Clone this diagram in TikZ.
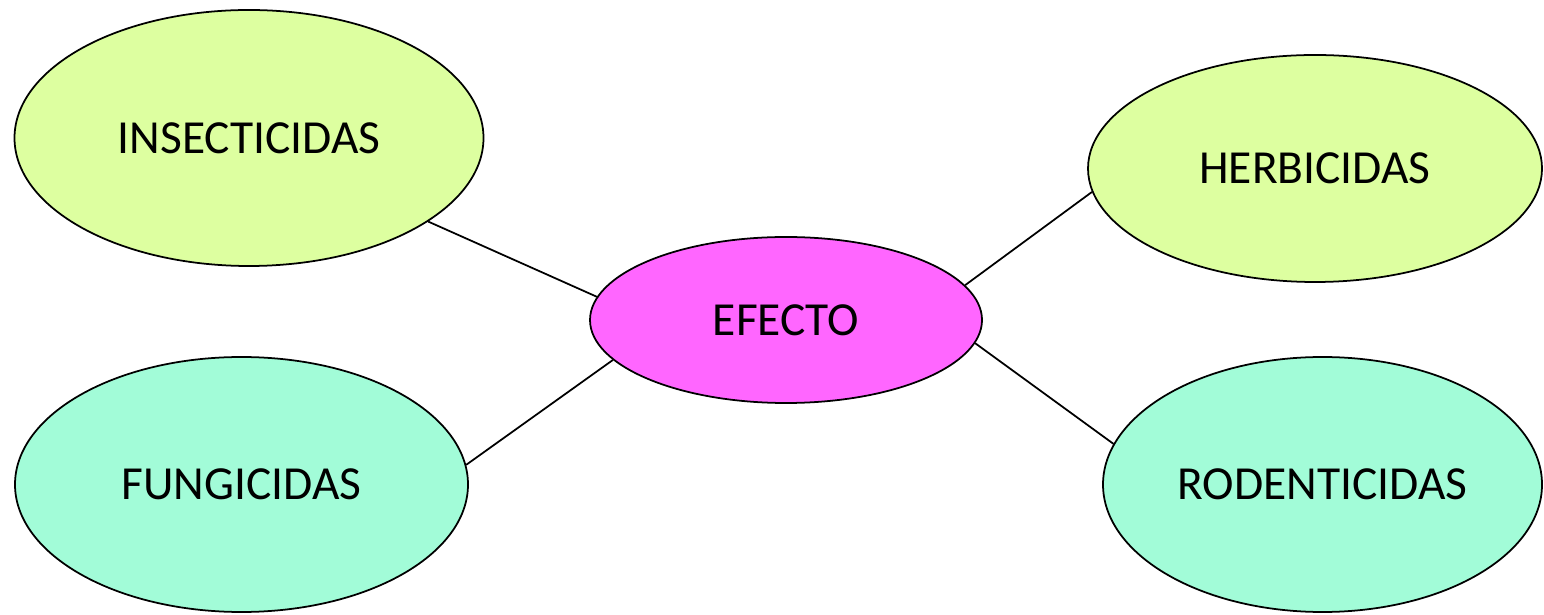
\documentclass[tikz,border=0pt]{standalone}
\usepackage{fontspec}
\setmainfont{Carlito}
\usetikzlibrary{shapes.geometric}

\definecolor{limefill}{HTML}{DDFFA0}
\definecolor{pinkfill}{HTML}{FF66FF}
\definecolor{aquafill}{HTML}{A2FCD8}

\begin{document}
\begin{tikzpicture}[%
    x=0.1mm,
    y=-0.1mm,
    line width=0.5pt,
    blob/.style={%
      ellipse,
      draw,
      inner sep=0pt,
      font=\fontsize{13.5}{16}\selectfont
    }
  ]
    \useasboundingbox (0,0) rectangle (1544,615);

    \node[blob,fill=limefill,minimum width=46.9mm,minimum height=25.6mm] (insect) at (249,138)    {INSECTICIDAS};
    \node[blob,fill=limefill,minimum width=45.4mm,minimum height=22.7mm] (herb)   at (1315,168.5) {HERBICIDAS};
    \node[blob,fill=pinkfill,minimum width=39.2mm,minimum height=16.6mm] (efecto) at (786,320)    {EFECTO};
    \node[blob,fill=aquafill,minimum width=45.3mm,minimum height=25.5mm] (fung)   at (241.5,484.5) {FUNGICIDAS};
    \node[blob,fill=aquafill,minimum width=43.9mm,minimum height=25.5mm] (roden)  at (1322.5,484.5) {RODENTICIDAS};

    \path (insect.-25.5) edge[draw] (efecto.173.6)
          (fung.5.4)     edge[draw] (efecto.-167.9)
          (efecto.11.8)  edge[draw] (herb.-174.1)
          (efecto.-7.2)  edge[draw] (roden.169.9);
  \end{tikzpicture}
\end{document}
